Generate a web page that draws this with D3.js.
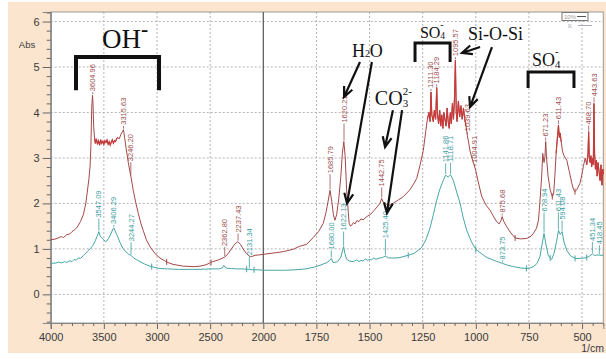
<!DOCTYPE html>
<html>
<head>
<meta charset="utf-8">
<script src="https://cdn.jsdelivr.net/npm/d3@7/dist/d3.min.js"></script>
<style>
body{margin:0;background:#fff}
svg{display:block}
</style>
</head>
<body>
<div id="chart"></div>
<script>
// wavenumber (1/cm), absorbance
var redSpectrum = [
[4000,1.20],[3950,1.22],[3900,1.27],[3880,1.25],[3850,1.31],[3820,1.33],[3800,1.38],[3775,1.42],[3750,1.48],
[3720,1.60],[3693,1.75],[3670,2.00],[3656,2.25],[3640,2.55],[3630,2.80],[3622,3.25],[3614,4.10],[3607,4.38],
[3602,4.20],[3596,3.70],[3588,3.45],[3580,3.32],[3570,3.42],[3560,3.30],[3550,3.38],[3540,3.28],[3530,3.40],
[3520,3.32],[3510,3.37],[3500,3.30],[3490,3.38],[3480,3.34],[3470,3.40],[3460,3.30],[3450,3.36],[3440,3.28],
[3430,3.35],[3420,3.40],[3410,3.32],[3400,3.38],[3390,3.36],[3380,3.42],[3370,3.45],[3355,3.42],[3340,3.52],
[3325,3.58],[3316,3.62],[3305,3.45],[3290,3.20],[3270,2.90],[3255,2.70],[3246,2.60],[3235,2.45],[3223,2.28],
[3200,2.02],[3176,1.78],[3150,1.55],[3129,1.40],[3100,1.20],[3066,1.05],[3020,0.90],[2972,0.80],[2930,0.74],
[2897,0.70],[2850,0.66],[2753,0.62],[2650,0.61],[2596,0.62],[2540,0.65],[2486,0.71],[2420,0.76],[2362,0.82],
[2330,0.90],[2300,1.00],[2270,1.10],[2240,1.16],[2215,1.10],[2190,1.00],[2160,0.90],[2130,0.84],[2109,0.83],
[2078,0.86],[2030,0.87],[2000,0.88],[1950,0.91],[1906,0.94],[1860,0.99],[1828,1.06],[1796,1.10],[1765,1.25],
[1740,1.38],[1718,1.56],[1705,1.80],[1695,2.05],[1686,2.29],[1678,2.05],[1670,1.75],[1663,1.63],[1655,1.75],
[1645,2.10],[1635,2.60],[1628,3.10],[1621,3.36],[1615,3.05],[1608,2.30],[1600,1.80],[1596,1.56],[1590,1.50],
[1584,1.52],[1576,1.58],[1568,1.55],[1560,1.62],[1550,1.60],[1540,1.66],[1530,1.64],[1513,1.71],[1495,1.76],
[1480,1.84],[1465,1.92],[1451,2.00],[1443,2.11],[1435,2.02],[1420,1.98],[1404,1.96],[1390,2.00],[1370,2.06],
[1341,2.15],[1310,2.30],[1290,2.45],[1278,2.55],[1262,2.85],[1247,3.17],[1235,3.60],[1228,3.85],[1220,4.00],
[1215,3.80],[1211,4.45],[1207,3.95],[1200,3.80],[1195,4.05],[1189,3.85],[1184,4.55],[1180,3.95],[1175,3.75],
[1170,4.05],[1165,3.70],[1160,3.95],[1155,3.65],[1150,4.00],[1145,3.85],[1140,3.70],[1135,4.10],[1130,3.80],
[1125,3.65],[1120,4.00],[1115,3.75],[1110,4.20],[1105,3.85],[1100,4.35],[1096,5.15],[1092,4.00],[1088,3.80],
[1082,4.25],[1076,3.90],[1070,4.15],[1064,3.85],[1058,4.10],[1052,3.85],[1046,3.70],[1040,3.50],[1034,3.35],
[1027,3.15],[1015,2.95],[1005,2.80],[1000,2.72],[990,2.50],[972,2.15],[950,1.95],[933,1.85],[915,1.70],
[902,1.60],[890,1.55],[882,1.62],[876,1.71],[868,1.60],[855,1.49],[835,1.35],[815,1.24],[790,1.22],[760,1.23],
[740,1.28],[729,1.34],[715,1.45],[705,1.63],[698,2.05],[690,2.60],[685,3.10],[679,2.90],[675,3.00],[671,3.36],
[667,3.00],[660,2.60],[650,2.30],[640,2.15],[634,2.20],[628,2.60],[622,3.10],[617,3.40],[614,3.55],[611,3.72],
[607,3.45],[603,3.55],[598,3.35],[592,3.15],[585,3.05],[572,2.95],[560,2.70],[548,2.44],[540,2.30],[533,2.26],
[525,2.30],[510,2.44],[500,2.65],[494,2.81],[485,3.00],[478,2.85],[472,3.10],[469,3.58],[466,3.00],[462,2.90],
[458,3.05],[455,2.80],[451,3.00],[447,2.85],[444,4.20],[441,3.10],[437,2.75],[433,2.95],[429,2.60],[425,2.90],
[420,2.70],[415,2.50],[411,2.85],[406,2.40],[402,2.75],[400,2.65]
];
var tealSpectrum = [
[4000,0.68],[3950,0.69],[3920,0.71],[3900,0.69],[3870,0.72],[3850,0.70],[3820,0.74],[3800,0.72],[3780,0.77],
[3760,0.75],[3740,0.80],[3720,0.79],[3693,0.85],[3670,0.90],[3656,0.94],[3630,1.00],[3602,1.08],[3580,1.18],
[3560,1.30],[3547,1.38],[3535,1.28],[3520,1.25],[3500,1.20],[3485,1.16],[3470,1.18],[3450,1.25],[3430,1.35],
[3415,1.44],[3406,1.46],[3395,1.40],[3380,1.32],[3370,1.27],[3350,1.15],[3320,1.01],[3290,0.93],[3265,0.88],
[3244,0.86],[3220,0.80],[3190,0.76],[3160,0.72],[3120,0.67],[3066,0.62],[3020,0.59],[2972,0.57],[2900,0.56],
[2800,0.55],[2700,0.55],[2596,0.55],[2500,0.56],[2420,0.56],[2385,0.58],[2372,0.64],[2360,0.60],[2340,0.57],
[2300,0.57],[2250,0.56],[2200,0.56],[2131,0.55],[2100,0.54],[2050,0.54],[2000,0.53],[1950,0.53],[1900,0.53],
[1850,0.54],[1800,0.56],[1760,0.60],[1733,0.64],[1700,0.70],[1685,0.76],[1680,0.79],[1672,0.70],[1665,0.70],
[1650,0.72],[1635,0.82],[1626,0.98],[1622,1.05],[1616,0.90],[1608,0.77],[1595,0.73],[1576,0.72],[1560,0.76],
[1550,0.72],[1540,0.75],[1530,0.73],[1520,0.78],[1510,0.75],[1500,0.77],[1490,0.76],[1480,0.80],[1470,0.77],
[1460,0.79],[1440,0.81],[1425,0.84],[1410,0.80],[1380,0.80],[1357,0.81],[1318,0.86],[1290,0.90],[1255,1.03],
[1235,1.20],[1216,1.45],[1200,1.75],[1184,2.07],[1170,2.30],[1153,2.51],[1142,2.62],[1130,2.58],[1119,2.63],
[1106,2.51],[1090,2.25],[1074,2.00],[1060,1.70],[1043,1.41],[1020,1.15],[1000,0.99],[975,0.90],[948,0.81],
[910,0.74],[874,0.68],[850,0.64],[822,0.61],[790,0.58],[762,0.57],[745,0.58],[729,0.61],[712,0.68],[698,0.83],
[688,1.10],[679,1.34],[670,1.10],[659,0.86],[650,0.80],[643,0.77],[632,0.90],[620,1.16],[611,1.41],[603,1.32],
[594,1.38],[585,1.15],[572,0.97],[555,0.85],[533,0.79],[510,0.79],[490,0.80],[478,0.81],[465,0.84],[451,0.89],
[440,0.85],[430,0.87],[418,0.86],[400,0.86]
];
var redPeaks = ["3604.96","3315.63","3246.20","2362.80","2237.43","1685.79","1620.21","1442.75","1211.30",
  "1184.29","1095.57","1039.63","1004.91","875.68","671.23","611.43","468.70","443.63"];
var tealPeaks = ["3547.09","3406.29","3244.27","2131.34","1680.00","1622.13","1425.40","1141.86","1118.71",
  "873.75","678.94","611.43","594.08","451.34","418.45"];
var redMarks = [2909, 2492, 815, 640, 533];
var tealMarks = [3050, 2157, 2087, 1318, 1000, 762, 650, 533, 478];
// wavenumber ranges where the red trace is noisy
var redNoisy = [[3590, 3370], [1232, 1045], [625, 595], [480, 400]];
var xMajor = [4000,3500,3000,2500,2000,1750,1500,1250,1000,750,500];
var yMajor = [0,1,2,3,4,5,6];

// leader lengths (px) between a peak and its label
var leadRed = {"3604.96":3,"3315.63":4,"3246.20":14,"2362.80":10,"2237.43":8,"1685.79":16,"1620.21":18,
  "1442.75":11,"1211.30":3,"1184.29":3,"1095.57":3,"1039.63":3,"1004.91":3,"875.68":3,"671.23":4,"611.43":5,
  "468.70":6,"443.63":6};
var leadTeal = {"3547.09":13,"3406.29":3,"3244.27":13,"2131.34":13,"1680.00":8,"1622.13":15,"1425.40":17,
  "1141.86":12,"1118.71":12,"873.75":3,"678.94":21,"611.43":18,"594.08":11,"451.34":12,"418.45":10};

var W = 606, H = 359;
var pL = 50.7, pR = 603.3, pT = 12, pB = 323;
var redCol = "#a44848", tealCol = "#48a6a6";

var svg = d3.select("#chart").append("svg").attr("width", W).attr("height", H);
svg.append("rect").attr("x", 8).attr("y", 2).attr("width", W - 8).attr("height", 351).attr("fill", "#fbe5cf");
svg.append("rect").attr("x", pL).attr("y", pT).attr("width", pR - pL).attr("height", pB - pT).attr("fill", "#fff");

// the wavenumber axis is compressed 2x above 2000
var x = d3.scaleLinear().domain([4000, 2000, 400]).range([pL, 263.3, pR]);
var y = d3.scaleLinear().domain([-0.63, 6.21]).range([pB, pT]);

var minorX = d3.range(3900, 2000, -100).concat(d3.range(1950, 400, -50)).filter(function(d){ return xMajor.indexOf(d) < 0; });
var minorY = d3.range(-0.6, 6.21, 0.2).map(function(d){ return Math.round(d * 10) / 10; }).filter(function(d){ return yMajor.indexOf(d) < 0; });

// grid
var grid = svg.append("g").attr("stroke", "#b4b4b4").attr("stroke-dasharray", "2,2");
grid.selectAll("line.gy").data(yMajor).enter().append("line")
  .attr("x1", pL).attr("x2", pR).attr("y1", function(d){ return y(d); }).attr("y2", function(d){ return y(d); });
grid.selectAll("line.gx").data(xMajor.filter(function(d){ return d != 4000 && d != 2000; })).enter().append("line")
  .attr("y1", pT).attr("y2", pB).attr("x1", function(d){ return x(d); }).attr("x2", function(d){ return x(d); });

// frame + break line at 2000
svg.append("rect").attr("x", pL).attr("y", pT).attr("width", pR - pL).attr("height", pB - pT)
  .attr("fill", "none").attr("stroke", "#9a9a9a");
svg.append("line").attr("x1", x(2000)).attr("x2", x(2000)).attr("y1", pT).attr("y2", pB)
  .attr("stroke", "#555").attr("stroke-width", 1.2);

// axes
svg.append("g").attr("transform", "translate(" + pL + ",0)")
  .call(d3.axisLeft(y).tickValues(yMajor).tickSize(8).tickPadding(3).tickFormat(d3.format("d")));
svg.append("g").attr("transform", "translate(" + pL + ",0)")
  .call(d3.axisLeft(y).tickValues(minorY).tickSize(4).tickFormat(""));
svg.append("g").attr("transform", "translate(0," + pB + ")")
  .call(d3.axisBottom(x).tickValues(xMajor).tickSize(6).tickPadding(4).tickFormat(d3.format("d")));
svg.append("g").attr("transform", "translate(0," + pB + ")")
  .call(d3.axisBottom(x).tickValues(minorX).tickSize(3).tickFormat(""));
svg.selectAll(".domain").attr("stroke", "#888");
svg.selectAll(".tick line").attr("stroke", "#666");
svg.selectAll(".tick text").attr("fill", "#3a3a3a").attr("font-size", 11).attr("font-family", "Liberation Sans, Arial, sans-serif");

svg.append("text").attr("x", 27).attr("y", 48).attr("text-anchor", "middle").attr("font-size", 9.5)
  .attr("font-family", "Liberation Sans, Arial, sans-serif").attr("fill", "#3a3a3a").text("Abs");
svg.append("text").attr("x", 604).attr("y", 352).attr("text-anchor", "end").attr("font-size", 10.5)
  .attr("font-family", "Liberation Sans, Arial, sans-serif").attr("fill", "#3a3a3a").text("1/cm");

// spectra
var line = d3.line().x(function(d){ return x(d[0]); }).y(function(d){ return y(d[1]); });
var plot = svg.append("g");
plot.append("path").datum(tealSpectrum).attr("d", line).attr("fill", "none").attr("stroke", tealCol).attr("stroke-width", 1);
plot.append("path").datum(redSpectrum).attr("d", line).attr("fill", "none").attr("stroke", redCol).attr("stroke-width", 1);
// dense noise reads brighter red in the original
redNoisy.forEach(function(r) {
  plot.append("path").datum(redSpectrum.filter(function(d){ return d[0] <= r[0] && d[0] >= r[1]; }))
    .attr("d", line).attr("fill", "none").attr("stroke", "#c83a3a").attr("stroke-width", 1.1);
});

function valueAt(series, w) {
  var near = series.filter(function(d){ return Math.abs(d[0] - w) <= 4; });
  if (near.length) return d3.max(near, function(d){ return d[1]; });
  for (var i = 1; i < series.length; i++) {
    var a = series[i - 1], b = series[i];
    if (w <= a[0] && w >= b[0]) return a[1] + (b[1] - a[1]) * (a[0] - w) / (a[0] - b[0]);
  }
  return series[series.length - 1][1];
}

function drawMarks(series, marks, col) {
  plot.selectAll(null).data(marks).enter().append("line")
    .attr("x1", function(d){ return x(d); }).attr("x2", function(d){ return x(d); })
    .attr("y1", function(d){ return y(valueAt(series, d)) - 3; })
    .attr("y2", function(d){ return y(valueAt(series, d)) + 3; })
    .attr("stroke", col).attr("stroke-width", 1);
}
drawMarks(redSpectrum, redMarks, redCol);
drawMarks(tealSpectrum, tealMarks, tealCol);

function drawPeaks(series, peaks, leads, col) {
  var g = plot.append("g");
  peaks.forEach(function(p) {
    var w = parseFloat(p), px = x(w), py = y(valueAt(series, w)), L = leads[p] || 8;
    g.append("line").attr("x1", px).attr("x2", px).attr("y1", py - 1).attr("y2", py - L)
      .attr("stroke", col).attr("stroke-width", 0.8);
    g.append("text").attr("transform", "translate(" + (px + 2.6) + "," + (py - L - 1) + ") rotate(-90)")
      .attr("font-size", 7.5).attr("font-family", "Liberation Sans, Arial, sans-serif")
      .attr("fill", col).text(p);
  });
}
drawPeaks(redSpectrum, redPeaks, leadRed, "#9c4e4e");
drawPeaks(tealSpectrum, tealPeaks, leadTeal, "#3c9e9e");

// instrument legend box
svg.append("rect").attr("x", 562).attr("y", 12.5).attr("width", 26).attr("height", 8).attr("fill", "#fff").attr("stroke", "#777");
svg.append("text").attr("x", 564).attr("y", 19).attr("font-size", 6).attr("fill", "#999").attr("font-family", "Liberation Sans, sans-serif").text("10%");
svg.append("line").attr("x1", 577).attr("x2", 586).attr("y1", 16.5).attr("y2", 16.5).attr("stroke", "#555");
svg.append("text").attr("x", 568).attr("y", 28).attr("font-size", 6).attr("fill", "#aab").attr("font-family", "Liberation Serif, serif").text("K");
svg.append("line").attr("x1", 578).attr("x2", 592).attr("y1", 25.5).attr("y2", 25.5).attr("stroke", "#aab");

// band annotations (positions in data units)
var ann = svg.append("g").attr("font-family", "Liberation Serif, Times New Roman, serif").attr("fill", "#111");

function chem(wx, vy, size, parts) {
  var cx = x(wx), base = y(vy);
  parts.forEach(function(pt) {
    var fs = size * (pt.s || 1);
    var t = ann.append("text").attr("x", cx).attr("y", base + (pt.dy || 0) * size).attr("font-size", fs)
      .attr("font-weight", pt.b ? "bold" : null).text(pt.t);
    if (!pt.stay) cx += t.node().getComputedTextLength();
  });
}
chem(3517, 5.42, 27, [{t: "OH"}, {t: "-", s: 0.8, dy: -0.45, b: 1}]);
chem(1583, 5.22, 18, [{t: "H"}, {t: "2", s: 0.55, dy: 0.02}, {t: "O"}]);
chem(1475, 4.16, 20, [{t: "CO"}, {t: "3", s: 0.55, dy: 0.08, stay: 1}, {t: "2-", s: 0.55, dy: -0.5}]);
chem(1263, 5.64, 16, [{t: "SO"}, {t: "4", s: 0.6, dy: 0.08, stay: 1}, {t: "-", s: 0.6, dy: -0.6}]);
chem(1037, 5.59, 18, [{t: "Si-O-Si"}]);
chem(736, 5.02, 18, [{t: "SO"}, {t: "4", s: 0.6, dy: 0.08, stay: 1}, {t: "-", s: 0.6, dy: -0.6}]);

function bracket(w1, w2, vTop, vLeg, sw) {
  ann.append("path").attr("d", "M" + x(w1) + "," + y(vLeg) + "V" + y(vTop) + "H" + x(w2) + "V" + y(vLeg))
    .attr("fill", "none").attr("stroke", "#111").attr("stroke-width", sw);
}
bracket(3762, 2981, 5.22, 4.49, 4);
bracket(1286, 1121, 5.53, 5.11, 3);
bracket(754, 538, 4.89, 4.54, 3);

function arrow(w1, v1, w2, v2) {
  var x1 = x(w1), y1 = y(v1), x2 = x(w2), y2 = y(v2);
  var a = Math.atan2(y2 - y1, x2 - x1), h = 11, s = 0.42;
  ann.append("path")
    .attr("d", "M" + x1 + "," + y1 + "L" + x2 + "," + y2 +
      "M" + (x2 - h * Math.cos(a - s)) + "," + (y2 - h * Math.sin(a - s)) + "L" + x2 + "," + y2 +
      "L" + (x2 - h * Math.cos(a + s)) + "," + (y2 - h * Math.sin(a + s)))
    .attr("fill", "none").attr("stroke", "#111").attr("stroke-width", 2.2);
}
arrow(1545, 5.11, 1620, 4.34);
arrow(1489, 5.11, 1606, 2.00);
arrow(1390, 4.05, 1427, 3.24);
arrow(1347, 4.05, 1418, 1.79);
arrow(980, 5.44, 1065, 5.31);
arrow(924, 5.44, 1027, 4.12);
</script>
</body>
</html>
